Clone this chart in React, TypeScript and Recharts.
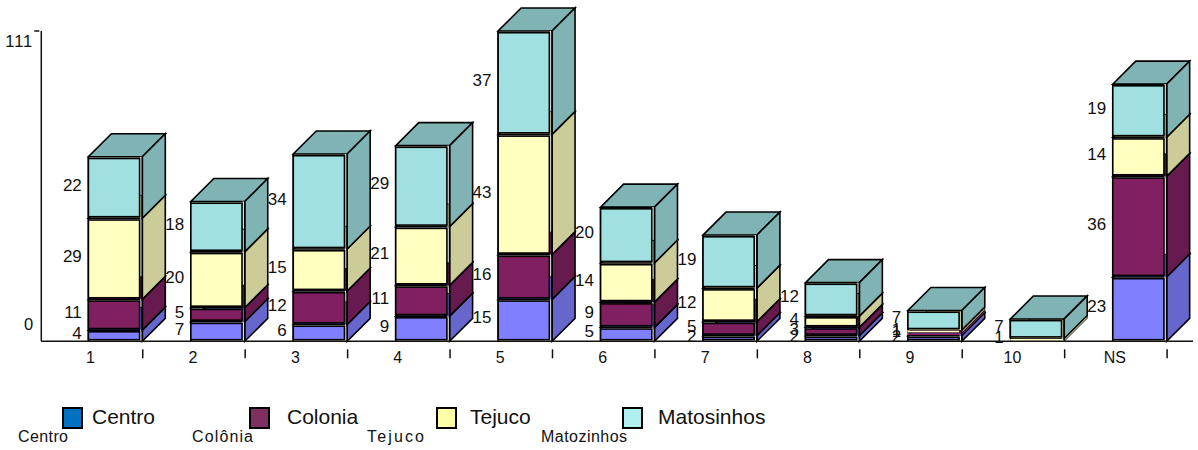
import React from "react";
import { BarChart, Bar, XAxis, YAxis, LabelList, Legend } from "recharts";

const categories = ["1", "2", "3", "4", "5", "6", "7", "8", "9", "10", "NS"];
const centro = [4, 7, 6, 9, 15, 5, 2, 2, 2, 0, 23];
const colonia = [11, 5, 12, 11, 16, 9, 5, 3, 1, 0, 36];
const tejuco = [29, 20, 15, 21, 43, 14, 12, 4, 1, 1, 14];
const matosinhos = [22, 18, 34, 29, 37, 20, 19, 12, 7, 7, 19];
const yTicks = [0, 111];
const seriesNames = ["Centro", "Colonia", "Tejuco", "Matosinhos"];
const zoneCaptions = ["Centro", "Colônia", "Tejuco", "Matozinhos"];

const rows = categories.map((name, i) => ({
  name,
  Centro: centro[i],
  Colonia: colonia[i],
  Tejuco: tejuco[i],
  Matosinhos: matosinhos[i],
}));

const FONT = "'Liberation Sans', Arial, sans-serif";
const INK = "#111";
const FRONT = ["#8080ff", "#802060", "#ffffc0", "#a0e0e0"];
const SIDE = ["#6666cc", "#661a4d", "#cccc99", "#80b3b3"];
const SWATCH = ["#0070c0", "#803060", "#ffffa8", "#b0f0f0"];
const SWATCH_X = [63, 250, 437, 623];
const NAME_X = [92, 287, 470, 658];
const CAPTION_X = [18, 192, 367, 541];
const CAPTION_LEN = [50, 61, 57, 86];

const DEPTH = 23;
const FACE = 54.5;
const NUDGE = 1;
const STRIP = 2.7;

function Block(props: any) {
  const { x, y, width, height, seriesIndex, payload } = props;
  if (!height || height <= 0) return null;
  const xr = x + width - NUDGE;
  const xl = xr - FACE + 0.6;
  const yt = y;
  const yb = y + height;
  const lower = seriesNames.slice(0, seriesIndex).reduce((s, k) => s + payload[k], 0);
  const isBase = lower === 0;
  const isTop = seriesIndex === seriesNames.length - 1;
  const thin = height < 4;
  const side = SIDE[seriesIndex];
  const frontTop = yt + (thin ? 0.6 : 1.7);
  const frontH = thin ? Math.max(height - 1.2, 0.6) : yb - 1.6 - frontTop;
  const stripEnd = isBase ? yb : yb - DEPTH;
  return (
    <g stroke="#000" strokeWidth={thin ? 0.8 : 1.6} strokeLinejoin="miter">
      {!isTop && <rect x={xr - STRIP} y={yt - DEPTH} width={STRIP} height={DEPTH} fill={side} stroke="none" />}
      <polygon fill={side} points={`${xl},${yt} ${xr},${yt} ${xr + DEPTH},${yt - DEPTH} ${xl + DEPTH},${yt - DEPTH}`} />
      <polygon fill={side} points={`${xr},${yb} ${xr + DEPTH},${yb - DEPTH} ${xr + DEPTH},${yt - DEPTH} ${xr},${yt}`} />
      {!isTop && <rect x={xr - STRIP + 0.4} y={yt - DEPTH + 1} width={STRIP - 1} height={DEPTH - 1} fill={side} stroke="none" />}
      {stripEnd > yt && <rect x={xr - STRIP + 0.4} y={yt} width={STRIP - 1} height={stripEnd - yt} fill="#ececec" stroke="none" />}
      <line x1={xr} y1={yt} x2={xr} y2={yb} />
      <line x1={xl} y1={yt} x2={xl} y2={yb} />
      <rect x={xl} y={frontTop} width={xr - xl - STRIP} height={frontH} fill={FRONT[seriesIndex]} stroke={thin ? "none" : "#000"} />
    </g>
  );
}

function ValueLabel(props: any) {
  const { x, y, width, height, value } = props;
  if (!value) return null;
  return (
    <text x={x + width - NUDGE - FACE - 6} y={y + height / 2 - 3} dy="0.36em" textAnchor="end" fontFamily={FONT} fontSize={17} fill={INK}>
      {value}
    </text>
  );
}

function XTick(props: any) {
  const { x, y, payload, band } = props;
  const cx = x - NUDGE;
  return (
    <g>
      <line x1={cx + band / 2} y1={y} x2={cx + band / 2} y2={y + 9} stroke={INK} strokeWidth={1.5} />
      <text x={cx - 1} y={y + 14} textAnchor="middle" fontFamily={FONT} fontSize={16} fill={INK}>
        {payload.value}
      </text>
    </g>
  );
}

function YTick(props: any) {
  const { x, y, payload } = props;
  const atTop = payload.value !== 0;
  return (
    <g>
      {atTop && <line x1={x + 1} y1={y} x2={x + 6} y2={y} stroke={INK} strokeWidth={1.5} />}
      <text x={x} y={atTop ? y + 10 : y - 17} dy="0.36em" textAnchor="end" letterSpacing={atTop ? 1 : 0} fontFamily={FONT} fontSize={16.5} fill={INK}>
        {payload.value}
      </text>
    </g>
  );
}

function LegendBlock() {
  return (
    <svg width={1198} height={450} style={{ display: "block", pointerEvents: "none" }}>
      {seriesNames.map((n, i) => (
        <g key={n}>
          <rect x={SWATCH_X[i]} y={408} width={19} height={20} fill={SWATCH[i]} stroke="#000" strokeWidth={2} />
          <text x={NAME_X[i]} y={424} fontFamily={FONT} fontSize={21} fill={INK}>{n}</text>
          <text x={CAPTION_X[i]} y={442} fontFamily={FONT} fontSize={16} fill={INK} textLength={CAPTION_LEN[i]} lengthAdjust="spacing">
            {zoneCaptions[i]}
          </text>
        </g>
      ))}
    </svg>
  );
}

export default function App() {
  const band = 102.45;
  return (
    <div style={{ position: "absolute", left: 0, top: 0, width: 1198, height: 450 }}>
      <BarChart
        width={1198}
        height={450}
        data={rows}
        barCategoryGap={0}
        barGap={0}
        margin={{ top: 31, right: 5, bottom: 78.7, left: 1.3 }}
      >
        <XAxis
          dataKey="name"
          interval={0}
          height={30}
          padding={{ left: 0, right: 24.9 }}
          axisLine={{ stroke: INK, strokeWidth: 1.5 }}
          tickLine={false}
          tick={<XTick band={band} />}
        />
        <YAxis
          width={40}
          domain={[0, 111]}
          ticks={yTicks}
          interval={0}
          axisLine={{ stroke: INK, strokeWidth: 1.5 }}
          tickLine={false}
          tick={<YTick />}
        />
        <Legend
          layout="horizontal"
          verticalAlign="middle"
          wrapperStyle={{ position: "absolute", left: 0, top: 0, width: 1198, height: 450, margin: 0 }}
          content={<LegendBlock />}
        />
        {seriesNames.map((n, i) => (
          <Bar
            key={n}
            dataKey={n}
            stackId="a"
            fill={FRONT[i]}
            isAnimationActive={false}
            shape={(p: any) => <Block {...p} seriesIndex={i} />}
          >
            <LabelList dataKey={n} content={<ValueLabel />} />
          </Bar>
        ))}
      </BarChart>
    </div>
  );
}
